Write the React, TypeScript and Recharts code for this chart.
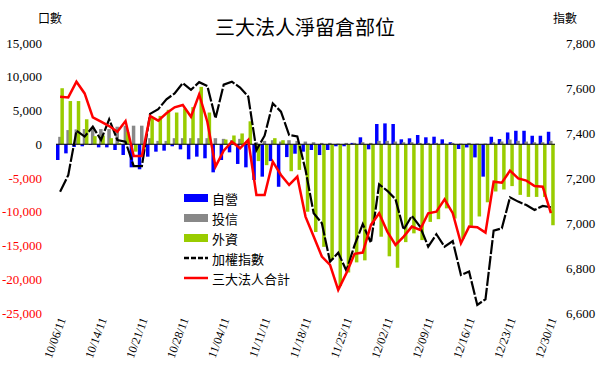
import React from 'react';
import { ComposedChart, Bar, Line, XAxis, YAxis, ReferenceLine, Legend } from 'recharts';

const dates = [
  '10/06/11', '10/07/11', '10/11/11', '10/12/11', '10/13/11', '10/14/11', '10/17/11', '10/18/11', '10/19/11', '10/20/11',
  '10/21/11', '10/24/11', '10/25/11', '10/26/11', '10/27/11', '10/28/11', '10/31/11', '11/01/11', '11/02/11', '11/03/11',
  '11/04/11', '11/07/11', '11/08/11', '11/09/11', '11/10/11', '11/11/11', '11/14/11', '11/15/11', '11/16/11', '11/17/11',
  '11/18/11', '11/21/11', '11/22/11', '11/23/11', '11/24/11', '11/25/11', '11/28/11', '11/29/11', '11/30/11', '12/01/11',
  '12/02/11', '12/05/11', '12/06/11', '12/07/11', '12/08/11', '12/09/11', '12/12/11', '12/13/11', '12/14/11', '12/15/11',
  '12/16/11', '12/19/11', '12/20/11', '12/21/11', '12/22/11', '12/23/11', '12/26/11', '12/27/11', '12/28/11', '12/29/11',
  '12/30/11',
];

// 自營
const dealer = [
  -2330, -1350, -400, -300, -110, -460, -460, -850, -1590, -3420,
  -3710, -1840, -1100, -950, -300, -760, -2230, -1840, -2080, -4160,
  -2330, -1200, -2920, -3420, -5300, -4800, -2500, -6300, -1900, -1400,
  -1100, -850, -1600, -850, -300, -300, 200, 1030, -750, 3000,
  3090, 3000, 730, 880, 1370, 1030, 1120, 730, 300, -700,
  -470, -1950, -4800, 1110, 770, 1750, 2000, 2000, 1260, 1260,
  1850,
];

// 投信
const trust = [
  1100, 2100, 2200, 2250, 2500, 2250, 2250, 2600, 2750, 2750,
  2750, 900, 500, 500, 900, 900, 900, 900, 900, 900,
  800, 600, 800, 600, 300, 500, 600, 400, 600, 500,
  400, 300, 200, 200, 100, 200, 200, 300, 200, 500,
  500, 400, 300, 300, 200, 200, 200, 100, 200, 100,
  200, 100, 100, 300, 400, 700, 500, 400, 300, 300,
  500,
];

// 外資
const foreign = [
  8300, 6400, 6400, 3700, 1200, 1300, 900, 200, 1800, -1100,
  -700, 4000, 4200, 5100, 4700, 5300, 5500, 8500, 4700, -100,
  700, 1300, 1600, 3400, -2500, -3100, 900, 600, -4000, -3800,
  -10000, -13000, -15200, -17100, -21000, -19000, -17500, -17200, -11800, -13700,
  -16600, -18300, -14500, -13200, -14200, -11500, -11100, -9500, -11000, -14000,
  -12100, -10700, -8600, -7000, -6700, -6200, -7500, -7800, -7800, -7800,
  -12000,
];

// 加權指數
const taiex = [
  7139, 7213, 7410, 7384, 7428, 7369, 7461, 7369, 7361, 7253,
  7253, 7485, 7506, 7550, 7576, 7622, 7592, 7626, 7609, 7465,
  7615, 7628, 7602, 7562, 7324, 7388, 7532, 7495, 7391, 7385,
  7236, 7043, 6999, 6828, 6868, 6788, 6902, 6995, 6912, 7172,
  7143, 7106, 6970, 7032, 6984, 6895, 6950, 6895, 6920, 6769,
  6784, 6636, 6661, 6966, 6976, 7114, 7095, 7080, 7058, 7076,
  7070,
];

// 三大法人合計
const total = [
  7040, 6940, 9260, 7530, 3980, 3340, 2700, 1860, 3440, -1740,
  -1740, 4180, 3490, 4580, 5470, 5810, 4080, 7380, 3340, -3320,
  -950, 380, -600, 630, -7510, -7510, -2580, -4550, -6030, -4800,
  -10720, -13680, -16640, -17870, -21570, -19100, -16240, -16040, -11950, -10220,
  -12940, -14910, -13680, -12200, -12690, -10220, -9980, -8150, -10220, -14670,
  -12200, -12300, -13090, -5540, -5690, -3910, -5050, -5390, -6180, -6280,
  -10220,
];

const leftTicks = [15000, 10000, 5000, 0, -5000, -10000, -15000, -20000, -25000];
const rightTicks = [7800, 7600, 7400, 7200, 7000, 6800, 6600];

const data = dates.map((d, i) => ({
  date: d,
  dealer: dealer[i],
  trust: trust[i],
  foreign: foreign[i],
  taiex: taiex[i],
  total: total[i],
}));

const SERIF = '"Liberation Serif", "Times New Roman", serif';
const CJK = '"Noto Sans CJK TC", "Noto Sans CJK SC", sans-serif';

const fmt = (v: number) => v.toLocaleString('en-US');

function LeftTick({ x, y, payload }: any) {
  const v = payload.value as number;
  return (
    <text x={x} y={y} dy="0.35em" textAnchor="end" fontFamily={SERIF} fontSize={13} fill={v < 0 ? '#ff0000' : '#000'}>
      {fmt(v)}
    </text>
  );
}

function RightTick({ x, y, payload }: any) {
  return (
    <text x={x} y={y} dy="0.35em" textAnchor="start" fontFamily={SERIF} fontSize={13} fill="#000">
      {fmt(payload.value)}
    </text>
  );
}

function DateTick({ x, y, payload }: any) {
  return (
    <g transform={`translate(${x + 2},${y})`}>
      <text textAnchor="end" dy="0.35em" transform="rotate(-70)" fontFamily={SERIF} fontSize={12} fill="#000">
        {payload.value}
      </text>
    </g>
  );
}

const legendItems = [
  { name: '自營', kind: 'bar', color: '#0000ff' },
  { name: '投信', kind: 'bar', color: '#888888' },
  { name: '外資', kind: 'bar', color: '#99cc00' },
  { name: '加權指數', kind: 'line', color: '#000000', dash: '5 2' },
  { name: '三大法人合計', kind: 'line', color: '#ff0000' },
];

function LegendBox() {
  return (
    <div style={{ fontFamily: CJK, fontSize: 13, color: '#000' }}>
      {legendItems.map((item) => (
        <div key={item.name} style={{ display: 'flex', alignItems: 'center', height: 20 }}>
          <svg width={24} height={10} style={{ marginRight: 4 }}>
            {item.kind === 'bar' ? (
              <rect x={0} y={1} width={24} height={8} fill={item.color} />
            ) : (
              <line x1={0} y1={5} x2={24} y2={5} stroke={item.color} strokeWidth={2.5} strokeDasharray={item.dash} />
            )}
          </svg>
          <span>{item.name}</span>
        </div>
      ))}
    </div>
  );
}

export default function App() {
  return (
    <div style={{ position: 'absolute', left: 0, top: 0, width: 600, height: 386, background: '#fff' }}>
      <ComposedChart
        width={600}
        height={386}
        data={data}
        margin={{ top: 43, right: 0, bottom: 0, left: 0 }}
        barGap={-1.3}
        barSize={3.5}
      >
        <XAxis
          dataKey="date"
          interval={4}
          axisLine={false}
          tickLine={false}
          tickSize={0}
          tickMargin={5}
          height={73}
          tick={<DateTick />}
        />
        <YAxis
          yAxisId="left"
          width={56}
          domain={[-25000, 15000]}
          ticks={leftTicks}
          axisLine={false}
          tickLine={false}
          tickMargin={8}
          interval={0}
          tick={<LeftTick />}
        />
        <YAxis
          yAxisId="right"
          orientation="right"
          width={45}
          domain={[6600, 7800]}
          ticks={rightTicks}
          axisLine={false}
          tickLine={false}
          tickMargin={5}
          interval={0}
          tick={<RightTick />}
        />
        <Bar yAxisId="left" dataKey="dealer" name="自營" fill="#0000ff" isAnimationActive={false} />
        <Bar yAxisId="left" dataKey="trust" name="投信" fill="#888888" isAnimationActive={false} />
        <Bar yAxisId="left" dataKey="foreign" name="外資" fill="#99cc00" isAnimationActive={false} />
        <ReferenceLine yAxisId="left" y={0} stroke="#000" strokeWidth={1} />
        <Line
          yAxisId="right"
          dataKey="taiex"
          name="加權指數"
          stroke="#000"
          strokeWidth={2.2}
          strokeDasharray="14 2"
          dot={false}
          isAnimationActive={false}
        />
        <Line
          yAxisId="left"
          dataKey="total"
          name="三大法人合計"
          stroke="#ff0000"
          strokeWidth={2.5}
          dot={false}
          isAnimationActive={false}
        />
        <Legend
          layout="vertical"
          align="center"
          verticalAlign="middle"
          content={<LegendBox />}
          wrapperStyle={{ left: 184, top: 188, width: 130 }}
        />
      </ComposedChart>
      <div style={{ position: 'absolute', left: 0, top: 12, width: 610, textAlign: 'center', fontFamily: CJK, fontSize: 20, color: '#000' }}>
        三大法人淨留倉部位
      </div>
      <div style={{ position: 'absolute', left: 38, top: 9, fontFamily: CJK, fontSize: 12, color: '#000' }}>口數</div>
      <div style={{ position: 'absolute', left: 553, top: 9, fontFamily: CJK, fontSize: 12, color: '#000' }}>指數</div>
    </div>
  );
}
